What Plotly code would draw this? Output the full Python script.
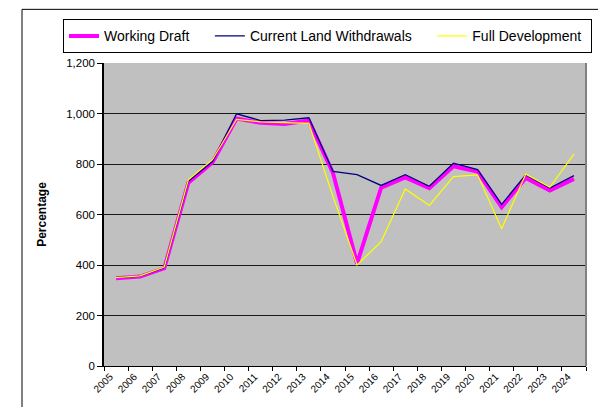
import plotly.graph_objects as go

years = [str(y) for y in range(2005, 2025)]

working_draft = [348, 354, 387, 726, 806, 980, 963, 958, 972, 765,
                 406, 706, 747, 704, 791, 770, 629, 745, 695, 741]
current_land_withdrawals = [350, 356, 390, 732, 810, 999, 972, 974, 983, 771,
                            758, 715, 758, 712, 803, 778, 640, 757, 705, 754]
full_development = [350, 357, 392, 737, 817, 977, 967, 964, 961, 672,
                    400, 492, 701, 636, 750, 757, 544, 760, 708, 839]

NBSP = "\u00a0"
series = [
    ("Working Draft", working_draft, "#FF00FF", 4, 4),
    ("Current Land Withdrawals", current_land_withdrawals, "#000080", 1.3, 4),
    ("Full Development", full_development, "#FFFF00", 1.2, 1),
]

fig = go.Figure()
for name, values, color, width, pad in series:
    fig.add_trace(go.Scatter(
        x=years, y=values, name=name + NBSP * pad, mode="lines",
        line=dict(color=color, width=width),
    ))

W, H = 598, 407
ml, mr, mt, mb = 104, 12, 63, 39
pw, ph = W - ml - mr, H - mt - mb


def px_x(px):
    return (px - ml) / pw


def px_y(py):
    return 1 + (mt - py) / ph


fig.update_layout(
    width=W, height=H,
    margin=dict(l=ml, r=mr, t=mt, b=mb),
    paper_bgcolor="white",
    plot_bgcolor="#C0C0C0",
    font=dict(family="Liberation Sans, Arial, sans-serif", color="black", size=11),
    showlegend=True,
    legend=dict(
        orientation="h",
        x=px_x(63), y=px_y(19), xanchor="left", yanchor="top",
        bgcolor="white", bordercolor="black", borderwidth=1,
        font=dict(size=14),
        entrywidth=0, itemwidth=30,
        tracegroupgap=0,
    ),
    shapes=[
        # outer chart frame
        dict(type="rect", xref="paper", yref="paper",
             x0=px_x(22), x1=px_x(W + 20), y0=px_y(H + 20), y1=px_y(9),
             line=dict(color="black", width=1), fillcolor="rgba(0,0,0,0)",
             layer="below"),
        # plot area border on the right
        dict(type="line", xref="paper", yref="paper",
             x0=1, x1=1, y0=0, y1=1,
             line=dict(color="#808080", width=2)),
    ],
)

fig.update_xaxes(
    type="category",
    range=[-0.5, 19.5],
    tickson="boundaries",
    ticks="outside", ticklen=4, tickcolor="black",
    tickangle=-45,
    tickfont=dict(size=10),
    showline=True, linecolor="black", linewidth=1,
    showgrid=False,
    ticklabelshift=-6,
)

fig.update_yaxes(
    range=[0, 1200],
    dtick=200,
    tickformat=",d",
    ticks="outside", ticklen=5, tickcolor="black",
    tickfont=dict(size=11.5),
    showline=True, linecolor="black", linewidth=1.5,
    showgrid=True, gridcolor="#1a1a1a", gridwidth=1,
    zeroline=False,
    title=dict(text="<b>Percentage</b>", font=dict(size=12), standoff=17),
)

fig.write_html("out.html")
